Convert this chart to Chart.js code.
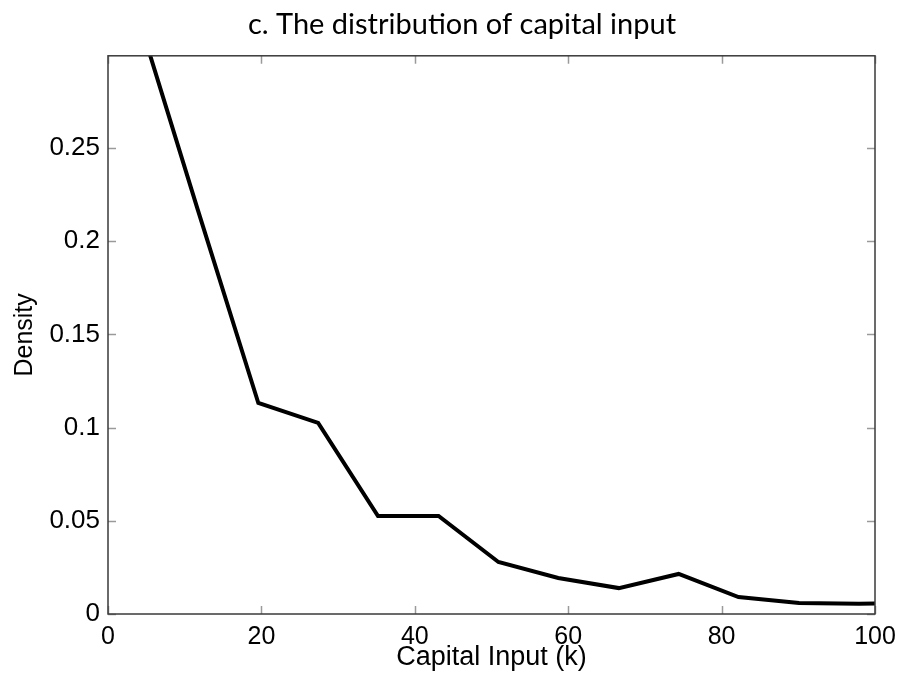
<!DOCTYPE html>
<html>
<head>
<meta charset="utf-8">
<script src="https://cdn.jsdelivr.net/npm/chart.js@4.4.1/dist/chart.umd.min.js"></script>
<style>
  html, body { margin: 0; padding: 0; background: #fff; }
</style>
</head>
<body>
<canvas id="capitalChart" width="901" height="677"></canvas>
<script>
// binned capital input (k) and estimated density
var capitalInput = [3.9, 11.7, 19.6, 27.4, 35.2, 43.1, 50.9, 58.7, 66.6, 74.4, 82.2, 90.1, 97.9, 105.7];
var density = [0.321, 0.217, 0.1132, 0.1025, 0.0526, 0.0526, 0.0279, 0.0193, 0.0139, 0.0215, 0.0091, 0.0059, 0.0055, 0.006];
var xTicks = [0, 20, 40, 60, 80, 100];
var yTicks = [0, 0.05, 0.1, 0.15, 0.2, 0.25];

var points = capitalInput.map(function (x, i) {
  return { x: x, y: density[i] };
});

var fontFamily = '"Liberation Sans", Arial, sans-serif';

// box around the axes with short inward tick marks on every side
var boxTicks = {
  id: 'boxTicks',
  afterLayout: function (chart) {
    // nudge the title so it sits centred over the whole figure
    if (chart.titleBlock) chart.titleBlock.right += 49;
  },
  afterDatasetsDraw: function (chart) {
    var c = chart.ctx;
    var a = chart.chartArea;
    var xs = chart.scales.x;
    var ys = chart.scales.y;
    var len = 8;
    c.save();
    c.strokeStyle = '#9a9a9a';
    c.lineWidth = 1.5;
    xs.ticks.forEach(function (t) {
      var px = Math.round(xs.getPixelForValue(t.value)) + 0.5;
      c.beginPath();
      c.moveTo(px, a.bottom); c.lineTo(px, a.bottom - len);
      c.moveTo(px, a.top); c.lineTo(px, a.top + len);
      c.stroke();
    });
    ys.ticks.forEach(function (t) {
      var py = Math.round(ys.getPixelForValue(t.value)) + 0.5;
      c.beginPath();
      c.moveTo(a.left, py); c.lineTo(a.left + len, py);
      c.moveTo(a.right, py); c.lineTo(a.right - len, py);
      c.stroke();
    });
    c.strokeStyle = '#3a3a3a';
    c.lineWidth = 1.5;
    c.strokeRect(a.left, a.top, a.right - a.left, a.bottom - a.top);
    c.restore();
  },
};

var ctx = document.getElementById('capitalChart').getContext('2d');
var chart = new Chart(ctx, {
  type: 'line',
  data: {
    datasets: [
      {
        label: 'Density',
        data: points,
        borderColor: '#000',
        borderWidth: 4,
        pointRadius: 0,
        tension: 0,
        fill: false,
        clip: 0,
      },
    ],
  },
  options: {
    responsive: false,
    animation: false,
    layout: {
      padding: { left: 0, right: 26, top: 0, bottom: 0 },
    },
    scales: {
      x: {
        type: 'linear',
        min: 0,
        max: 100,
        afterBuildTicks: function (scale) {
          scale.ticks = xTicks.map(function (v) { return { value: v }; });
        },
        afterFit: function (scale) {
          scale.height = 63;
          scale.paddingLeft = 0;
          scale.paddingRight = 0;
        },
        grid: { display: false, drawTicks: false },
        border: { display: false },
        ticks: {
          color: '#000',
          padding: 8,
          maxRotation: 0,
          font: { family: fontFamily, size: 25 },
        },
        title: {
          display: true,
          text: 'Capital Input (k)',
          color: '#000',
          padding: { top: 0, bottom: 3 },
          font: { family: fontFamily, size: 27 },
        },
      },
      y: {
        type: 'linear',
        min: 0,
        max: 0.2995,
        afterBuildTicks: function (scale) {
          scale.ticks = yTicks.map(function (v) { return { value: v }; });
        },
        afterFit: function (scale) {
          scale.width = 108;
        },
        grid: { display: false, drawTicks: false },
        border: { display: false },
        ticks: {
          color: '#000',
          padding: 8,
          font: { family: fontFamily, size: 26 },
          callback: function (value) {
            return String(Number(value.toFixed(4)));
          },
        },
        title: {
          display: true,
          text: 'Density',
          color: '#000',
          padding: { top: 10, bottom: 0 },
          font: { family: fontFamily, size: 25 },
        },
      },
    },
    plugins: {
      legend: { display: false },
      tooltip: { enabled: false },
      title: {
        display: true,
        text: 'c. The distribution of capital input',
        color: '#000',
        padding: { top: 7, bottom: 14 },
        font: { family: 'Lato, sans-serif', size: 29, weight: 'normal' },
      },
    },
  },
  plugins: [boxTicks],
});
</script>
</body>
</html>
